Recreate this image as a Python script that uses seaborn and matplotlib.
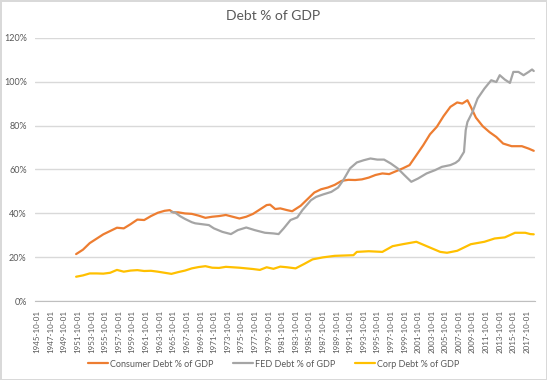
# Debt as a share of GDP, Excel-style line chart redone with seaborn.
import pandas as pd
import matplotlib.pyplot as plt
import seaborn as sns
from matplotlib.ticker import PercentFormatter

# Values (% of GDP).
consumer_dates = ['1951-07', '1952-07', '1953-07', '1954-07', '1955-07', '1956-07', '1957-07',
                  '1958-07', '1959-07', '1960-07', '1961-07', '1962-07', '1963-07', '1964-07',
                  '1965-04', '1965-10', '1966-07', '1967-07', '1968-07', '1969-07', '1970-07',
                  '1971-07', '1972-07', '1973-07', '1974-07', '1975-07', '1976-07', '1977-07',
                  '1978-07', '1979-07', '1980-01', '1980-10', '1981-07', '1982-07', '1983-04',
                  '1984-07', '1985-07', '1986-07', '1987-07', '1988-07', '1989-07', '1990-07',
                  '1991-07', '1992-07', '1993-07', '1994-07', '1995-07', '1996-07', '1997-07',
                  '1998-07', '1999-07', '2000-07', '2001-07', '2002-07', '2003-07', '2004-07',
                  '2005-07', '2006-07', '2007-07', '2008-04', '2009-01', '2009-07', '2010-04',
                  '2011-04', '2012-04', '2013-04', '2014-04', '2015-07', '2017-01', '2018-01',
                  '2018-10']
consumer_debt = [21.5, 23.5, 26.5, 28.5, 30.5, 32.0, 33.5,
                 33.2, 35.1, 37.2, 37.0, 38.8, 40.3, 41.2,
                 41.5, 40.5, 40.5, 40.0, 39.8, 39.0, 38.0,
                 38.5, 38.8, 39.3, 38.5, 37.7, 38.5, 39.8,
                 41.8, 43.8, 44.0, 42.0, 42.3, 41.5, 41.0,
                 43.5, 46.5, 49.5, 51.0, 51.8, 53.0, 54.8,
                 55.3, 55.2, 55.5, 56.3, 57.5, 58.2, 57.9,
                 59.2, 60.5, 62.0, 66.5, 71.0, 76.0, 79.4,
                 84.3, 88.5, 90.5, 90.0, 91.5, 88.5, 83.6,
                 79.7, 77.0, 74.8, 71.8, 70.6, 70.6, 69.5,
                 68.5]

fed_dates = ['1965-07', '1966-01', '1966-10', '1967-07', '1968-07', '1969-01', '1970-01',
             '1971-01', '1971-10', '1973-01', '1974-04', '1975-04', '1976-07', '1977-10',
             '1979-04', '1980-07', '1981-04', '1982-01', '1983-01', '1984-01', '1984-10',
             '1986-01', '1986-10', '1987-10', '1989-01', '1990-01', '1990-10', '1991-10',
             '1992-10', '1993-10', '1994-10', '1995-10', '1996-10', '1997-10', '1998-10',
             '1999-10', '2000-10', '2001-10', '2003-01', '2004-04', '2005-04', '2006-07',
             '2007-04', '2007-10', '2008-07', '2008-10', '2009-01', '2009-10', '2010-07',
             '2011-07', '2012-07', '2013-04', '2013-10', '2014-07', '2015-04', '2015-10',
             '2016-07', '2017-04', '2018-01', '2018-07', '2018-10']
fed_debt = [40.7, 40.5, 38.8, 37.5, 36.0, 35.5, 35.1,
            34.7, 33.2, 31.6, 30.6, 32.4, 33.6, 32.4,
            31.2, 30.9, 30.6, 33.2, 37.0, 38.2, 41.5,
            46.0, 47.5, 48.6, 49.8, 51.8, 55.1, 60.5,
            63.2, 64.2, 65.0, 64.5, 64.5, 62.7, 60.5,
            57.4, 54.4, 55.9, 58.2, 59.7, 61.2, 62.0,
            63.0, 64.2, 68.0, 77.9, 81.6, 86.2, 92.3,
            96.8, 100.6, 99.8, 102.9, 100.9, 99.4, 104.4,
            104.4, 102.9, 104.4, 105.5, 104.8]

corp_dates = ['1951-07', '1952-07', '1953-07', '1954-07', '1955-07', '1956-07', '1957-07',
              '1958-07', '1959-07', '1960-07', '1961-07', '1962-07', '1963-07', '1964-07',
              '1965-07', '1966-07', '1967-07', '1968-07', '1969-07', '1970-07', '1971-07',
              '1972-07', '1973-07', '1974-07', '1975-07', '1976-07', '1977-07', '1978-07',
              '1979-07', '1980-07', '1981-07', '1982-07', '1983-10', '1985-01', '1986-04',
              '1987-10', '1989-07', '1992-04', '1992-10', '1994-07', '1996-07', '1998-01',
              '1999-07', '2001-07', '2003-04', '2005-01', '2006-01', '2007-07', '2008-07',
              '2009-07', '2011-07', '2013-01', '2014-07', '2016-01', '2017-07', '2018-04',
              '2018-10']
corp_debt = [11.2, 11.8, 12.7, 12.7, 12.6, 13.0, 14.3,
             13.5, 14.0, 14.2, 13.8, 13.9, 13.5, 13.0,
             12.5, 13.3, 14.0, 15.0, 15.6, 16.0, 15.3,
             15.2, 15.7, 15.5, 15.3, 15.0, 14.7, 14.3,
             15.5, 14.8, 15.8, 15.5, 15.0, 17.0, 19.1,
             20.0, 20.7, 21.0, 22.5, 22.8, 22.5, 25.1,
             26.0, 27.1, 24.8, 22.5, 22.1, 23.0, 24.5,
             26.0, 27.1, 28.6, 29.1, 31.2, 31.2, 30.6,
             30.5]

tick_years = list(range(1945, 2018, 2))

series = [
    ('Consumer Debt % of GDP', consumer_dates, consumer_debt, '#ED7D31'),
    ('FED Debt % of GDP', fed_dates, fed_debt, '#A5A5A5'),
    ('Corp Debt % of GDP', corp_dates, corp_debt, '#FFC000'),
]

sns.set_style('white')
plt.rcParams['font.family'] = ['Lato', 'DejaVu Sans']
text_color = '#595959'
grid_color = '#D9D9D9'

fig = plt.figure(figsize=(5.47, 3.8), dpi=100)
ax = fig.add_axes([0.064, 0.207, 0.914, 0.694])

for name, dates, values, color in series:
    df = pd.DataFrame({'date': pd.to_datetime(dates), 'value': values})
    sns.lineplot(x='date', y='value', data=df, ax=ax, color=color,
                 linewidth=1.6, label=name, legend=False)

# Axes styling, Excel look.
ax.set_ylim(0, 120)
ax.set_yticks(range(0, 121, 20))
ax.yaxis.set_major_formatter(PercentFormatter(xmax=100, decimals=0))
ax.grid(axis='y', color=grid_color, linewidth=1)
ax.set_axisbelow(True)

ticks = pd.to_datetime([f'{y}-10-01' for y in tick_years])
ax.set_xticks(ticks)
ax.set_xticklabels([t.strftime('%Y-%m-%d') for t in ticks], rotation=90)
ax.set_xlim(pd.Timestamp('1945-06-15'), pd.Timestamp('2018-12-05'))

ax.set_xlabel('')
ax.set_ylabel('')
for side in ['top', 'right', 'left']:
    ax.spines[side].set_visible(False)
ax.spines['bottom'].set_color('#BFBFBF')
ax.tick_params(axis='y', length=0, labelsize=6.5, labelcolor=text_color, pad=6)
ax.tick_params(axis='x', length=4, color='#BFBFBF', direction='out',
               labelsize=5.8, labelcolor=text_color, pad=2)

fig.suptitle('Debt % of GDP', x=0.5, y=0.975, fontsize=10, color=text_color)

handles, labels = ax.get_legend_handles_labels()
fig.legend(handles, labels, loc='center', bbox_to_anchor=(0.5, 0.042), ncol=3,
           frameon=False, fontsize=6.5, labelcolor=text_color,
           handlelength=2.2, handletextpad=0.2, columnspacing=2.2)

fig.patch.set_edgecolor(grid_color)
fig.patch.set_linewidth(2)

plt.savefig('out.png', dpi=100)
